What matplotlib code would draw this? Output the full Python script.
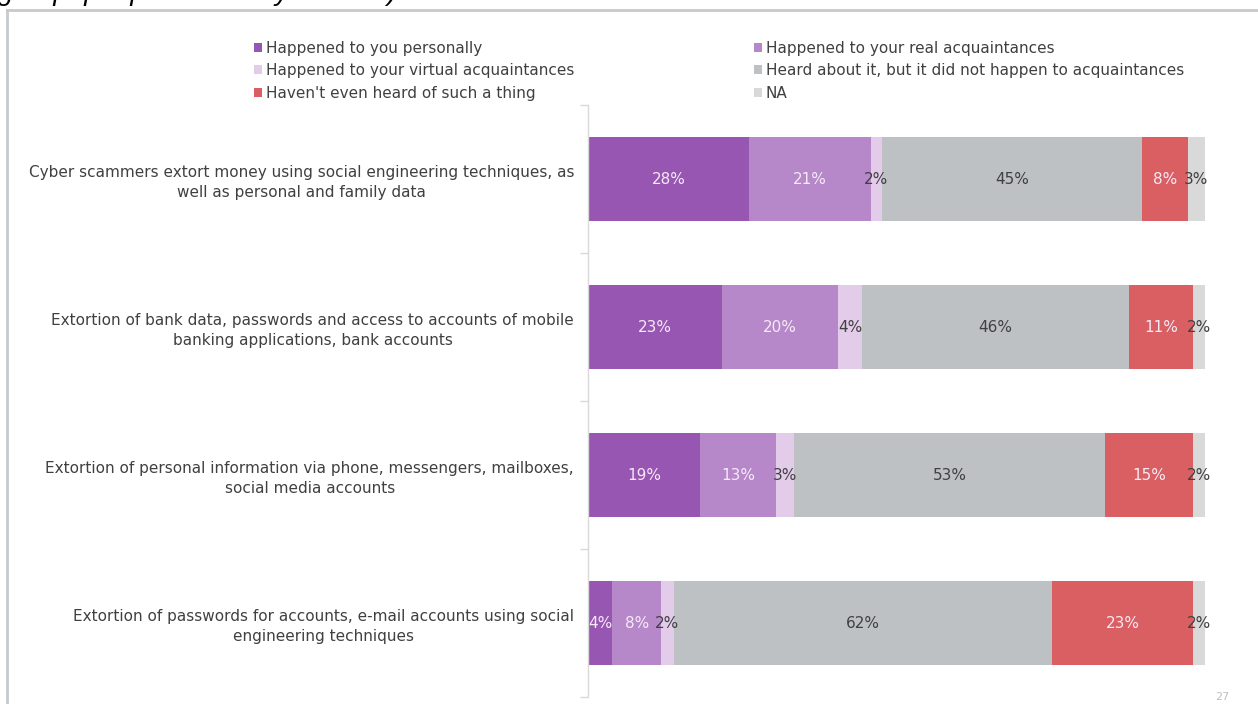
import numpy as np
import matplotlib
matplotlib.use("Agg")
import matplotlib.pyplot as plt
from matplotlib.patches import Patch
from matplotlib.lines import Line2D

categories = [
    "Cyber scammers extort money using social engineering techniques, as\nwell as personal and family data",
    "Extortion of bank data, passwords and access to accounts of mobile\nbanking applications, bank accounts",
    "Extortion of personal information via phone, messengers, mailboxes,\nsocial media accounts",
    "Extortion of passwords for accounts, e-mail accounts using social\nengineering techniques",
]
series_names = [
    "Happened to you personally",
    "Happened to your real acquaintances",
    "Happened to your virtual acquaintances",
    "Heard about it, but it did not happen to acquaintances",
    "Haven't even heard of such a thing",
    "NA",
]
personally = [28, 23, 19, 4]
real_acq = [21, 20, 13, 8]
virtual_acq = [2, 4, 3, 2]
heard_only = [45, 46, 53, 62]
never_heard = [8, 11, 15, 23]
no_answer = [3, 2, 2, 2]

colors = ["#9756b2", "#b687c9", "#e3cbea", "#bdc1c4", "#d95f62", "#d9d9d9"]
label_colors = ["#f6eaf6", "#f6eaf6", "#404040", "#404040", "#f6eaf6", "#404040"]
TEXT = "#404040"

series = np.array([personally, real_acq, virtual_acq, heard_only, never_heard, no_answer], dtype=float)
totals = series.sum(axis=0)
shares = series / totals

W, H = 1258, 704
fig = plt.figure(figsize=(W / 100, H / 100), dpi=100)
plt.rcParams["font.family"] = ["DejaVu Sans"]

ax = fig.add_axes([588 / W, 1 - 697 / H, (1205 - 588) / W, (697 - 105) / H])
y = np.arange(len(categories))
left = np.zeros(len(categories))
for i in range(len(series_names)):
    bars = ax.barh(y, shares[i], left=left, height=0.57, color=colors[i], linewidth=0)
    for j, b in enumerate(bars):
        cx = left[j] + shares[i][j] / 2
        ax.text(cx, y[j], f"{int(series[i][j])}%", ha="center", va="center",
                fontsize=11, color=label_colors[i], clip_on=False)
    left += shares[i]

ax.set_xlim(0, 1)
ax.set_ylim(len(categories) - 0.5, -0.5)
ax.set_xticks([])
ax.set_yticks(y)
ax.set_yticklabels(categories, fontsize=11, color=TEXT, multialignment="center", linespacing=1.4)
ax.tick_params(axis="y", which="major", length=0, pad=10)
ax.set_yticks(np.arange(-0.5, len(categories), 1.0), minor=True)
ax.tick_params(axis="y", which="minor", length=6, color="#d9d9d9", width=1)
for s in ["top", "right", "bottom"]:
    ax.spines[s].set_visible(False)
ax.spines["left"].set_color("#d9d9d9")
ax.spines["left"].set_linewidth(1)

# legend in two columns
handles = [Patch(facecolor=c, edgecolor="none") for c in colors]
leg_kw = dict(frameon=False, fontsize=11, handlelength=0.55, handleheight=0.55,
              handletextpad=0.25, labelspacing=0.5, borderpad=0, labelcolor=TEXT)
fig.legend([handles[0], handles[2], handles[4]], [series_names[0], series_names[2], series_names[4]],
           loc="upper left", bbox_to_anchor=(246 / W, 1 - 33 / H), **leg_kw)
fig.legend([handles[1], handles[3], handles[5]], [series_names[1], series_names[3], series_names[5]],
           loc="upper left", bbox_to_anchor=(746 / W, 1 - 33 / H), **leg_kw)

# slide frame and title remnant
fig.add_artist(Line2D([7 / W, 7 / W], [0, 1 - 10 / H], color="#c6cacd", lw=2))
fig.add_artist(Line2D([7 / W, 1], [1 - 10 / H, 1 - 10 / H], color="#c6cacd", lw=2))
fig.text(-2 / W, 1.0, "group: people over 60 years old)", fontsize=20, style="italic",
         family=["Liberation Sans"], color="#000000", va="baseline", ha="left")
fig.text(1222 / W, 1 - 697 / H, "27", fontsize=8, color="#bfbfbf", ha="center", va="center")

fig.savefig("out.png", dpi=100)
